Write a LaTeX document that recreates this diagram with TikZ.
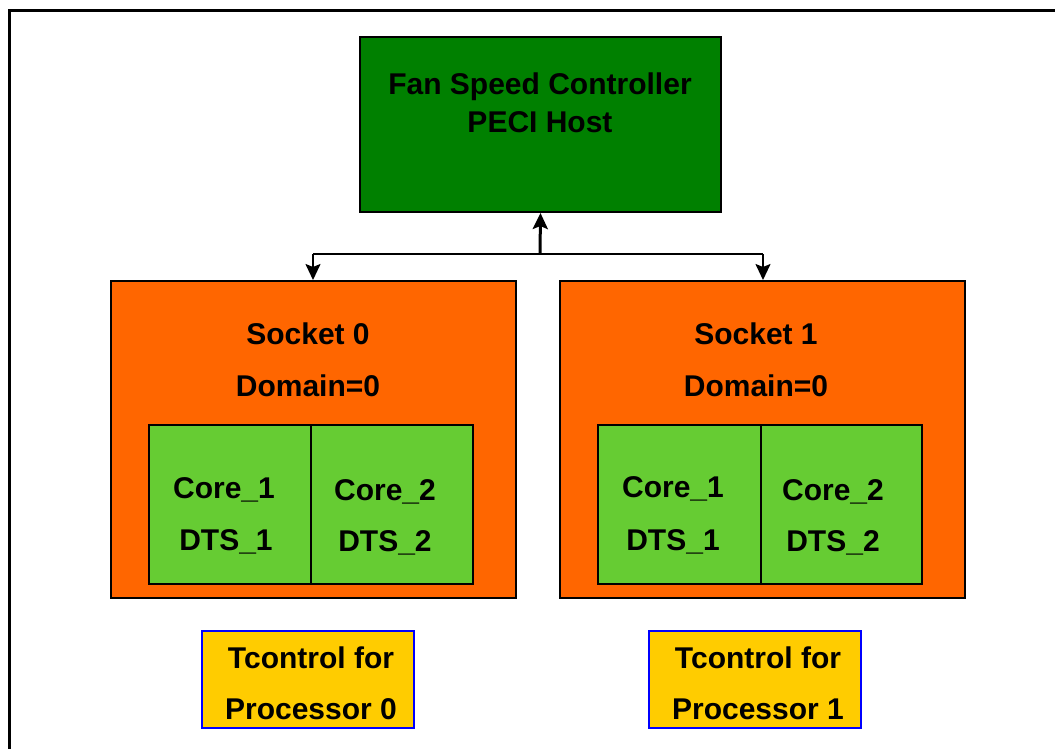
\documentclass[tikz,border=0pt]{standalone}
\usepackage{fontspec}
\setmainfont{Liberation Sans}
\usetikzlibrary{arrows.meta}
\definecolor{hostgreen}{HTML}{008000}
\definecolor{sockorange}{HTML}{FF6600}
\definecolor{coregreen}{HTML}{66CC33}
\definecolor{tcyellow}{HTML}{FFCC00}
\begin{document}
\begin{tikzpicture}[x=1pt,y=-1pt,
  box/.style={draw=black, line width=2pt, inner sep=0pt, anchor=north west},
  lbl/.style={font=\fontsize{30}{36}\selectfont\bfseries, inner sep=0pt, text=black, yshift=-2pt},
  >={Stealth[length=16pt,width=15pt,inset=3pt]},
]
\useasboundingbox (0,0) rectangle (1055,748);
\fill[white] (0,0) rectangle (1055,748);
% outer frame (only top and left edges visible)
\coordinate (fa) at (9,760);
\coordinate (fb) at (9,10.5);
\coordinate (fc) at (1070,10.5);
\draw[line width=3pt] (fa) -- (fb) -- (fc);

% host
\node[box, fill=hostgreen, minimum width=361pt, minimum height=175pt] (host) at (359,36) {};
\node[lbl] (h1) at (540,85) {Fan Speed Controller};
\node[lbl] (h2) at (540,120) {PECI Host};

% sockets
\node[box, fill=sockorange, minimum width=405pt, minimum height=317pt] (s0) at (110,280) {};
\node[box, fill=sockorange, minimum width=405pt, minimum height=317pt] (s1) at (559,280) {};
\node[lbl] (s0t) at (308,332) {Socket 0};
\node[lbl] (s0d) at (308,384) {Domain=0};
\node[lbl] (s1t) at (756,332) {Socket 1};
\node[lbl] (s1d) at (756,384) {Domain=0};

% cores
\node[box, fill=coregreen, minimum width=162pt, minimum height=159pt] (c01) at (148,424) {};
\node[box, fill=coregreen, minimum width=162pt, minimum height=159pt] (c02) at (310,424) {};
\node[box, fill=coregreen, minimum width=163pt, minimum height=159pt] (c11) at (597,424) {};
\node[box, fill=coregreen, minimum width=161pt, minimum height=159pt] (c12) at (760,424) {};

\node[lbl] (c01a) at (224,488) {Core\_1};
\node[lbl] (c01b) at (226,540) {DTS\_1};
\node[lbl] (c02a) at (385,490) {Core\_2};
\node[lbl] (c02b) at (385,541) {DTS\_2};
\node[lbl] (c11a) at (673,487) {Core\_1};
\node[lbl] (c11b) at (673,540) {DTS\_1};
\node[lbl] (c12a) at (833,490) {Core\_2};
\node[lbl] (c12b) at (833,541) {DTS\_2};

% tcontrol
\node[box, draw=blue, line width=1.5pt, fill=tcyellow, minimum width=212pt, minimum height=97pt] (t0) at (201,630) {};
\node[box, draw=blue, line width=1.5pt, fill=tcyellow, minimum width=212pt, minimum height=97pt] (t1) at (648,630) {};
\node[lbl] (t0a) at (311,656) {Tcontrol for};
\node[lbl] (t0b) at (311,707) {Processor 0};
\node[lbl] (t1a) at (758,656) {Tcontrol for};
\node[lbl] (t1b) at (758,707) {Processor 1};

% connectors
\coordinate (j) at (540,254);
\coordinate (jl) at (313,254);
\coordinate (jr) at (763,254);
\draw[line width=3pt, ->] (j) -- (host.south);
\draw[line width=2pt] (jl) -- (jr);
\draw[line width=2pt, ->] (jl) -- (jl |- s0.north);
\draw[line width=2pt, ->] (jr) -- (jr |- s1.north);
\end{tikzpicture}
\end{document}
